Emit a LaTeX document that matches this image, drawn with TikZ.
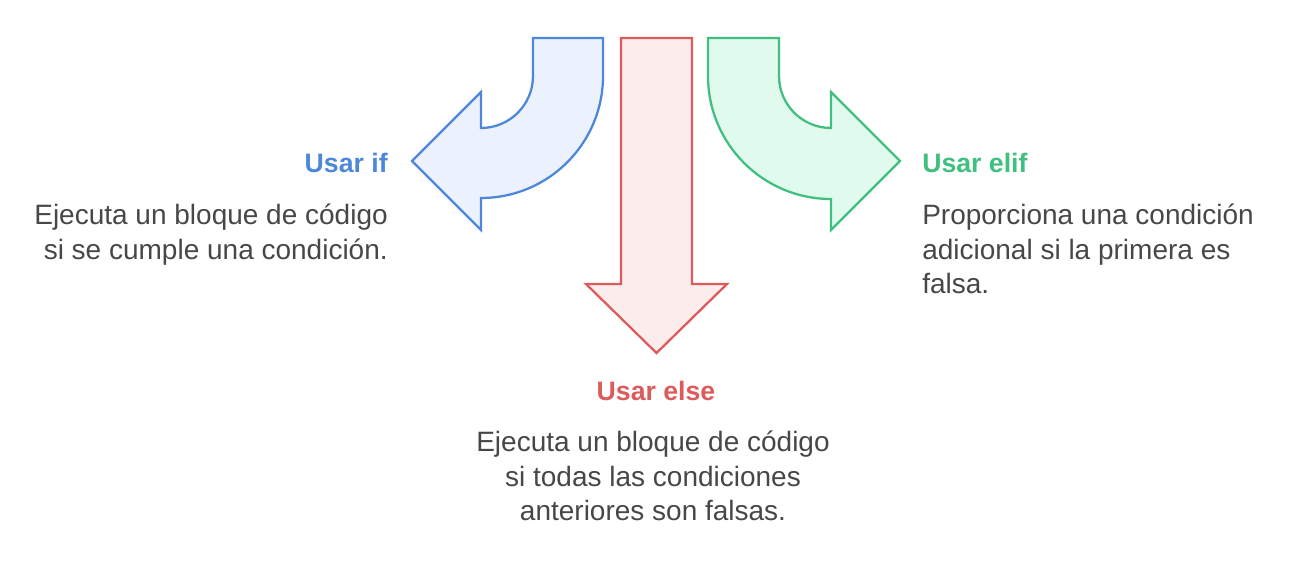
\documentclass[tikz,border=0pt]{standalone}
\usepackage{fontspec}
\setmainfont{Liberation Sans}
\definecolor{blueS}{HTML}{4D87D9}
\definecolor{blueF}{HTML}{EBF2FD}
\definecolor{redS}{HTML}{DC5B5B}
\definecolor{redF}{HTML}{FDECEC}
\definecolor{greenS}{HTML}{40BF80}
\definecolor{greenF}{HTML}{E1FAEE}
\definecolor{txt}{HTML}{474747}
\begin{document}
\begin{tikzpicture}[x=0.75pt,y=-0.75pt,
  arrowshape/.style={line width=1.7pt,line join=miter},
  title/.style={inner sep=0pt,font=\fontsize{20}{23}\selectfont\bfseries},
  body/.style={inner sep=0pt,text=txt,font=\fontsize{21}{25.9}\selectfont}]
\useasboundingbox (0,0) rectangle (1301,573);
% blue arrow (left)
\draw[arrowshape,draw=blueS,fill=blueF] (533,38) -- (603,38) -- (603,76)
  arc[start angle=0,end angle=90,radius=122] -- (481,230) -- (412,161) -- (481,92) -- (481,128)
  arc[start angle=90,end angle=0,radius=52] -- cycle;
% red arrow (down)
\draw[arrowshape,draw=redS,fill=redF] (621,38) -- (692,38) -- (692,284) -- (727,284)
  -- (656.5,353) -- (586,284) -- (621,284) -- cycle;
% green arrow (right)
\draw[arrowshape,draw=greenS,fill=greenF] (779,38) -- (708,38) -- (708,76)
  arc[start angle=180,end angle=90,radius=123] -- (831,230) -- (900,161) -- (831,92) -- (831,128)
  arc[start angle=90,end angle=180,radius=52] -- cycle;
% texts
\node[title,text=blueS,anchor=base east] (tif) at (388,173) {Usar if};
\node[body,anchor=north east,align=right] (bif) at (388,204) {Ejecuta un bloque de código\\si se cumple una condición.};
\node[title,text=greenS,anchor=base west] (telif) at (922,173) {Usar elif};
\node[body,anchor=north west,align=left] (belif) at (922,204) {Proporciona una condición\\adicional si la primera es\\falsa.};
\node[title,text=redS,anchor=base] (telse) at (656,400) {Usar else};
\node[body,anchor=north,align=center] (belse) at (653,431) {Ejecuta un bloque de código\\si todas las condiciones\\anteriores son falsas.};
\end{tikzpicture}
\end{document}
